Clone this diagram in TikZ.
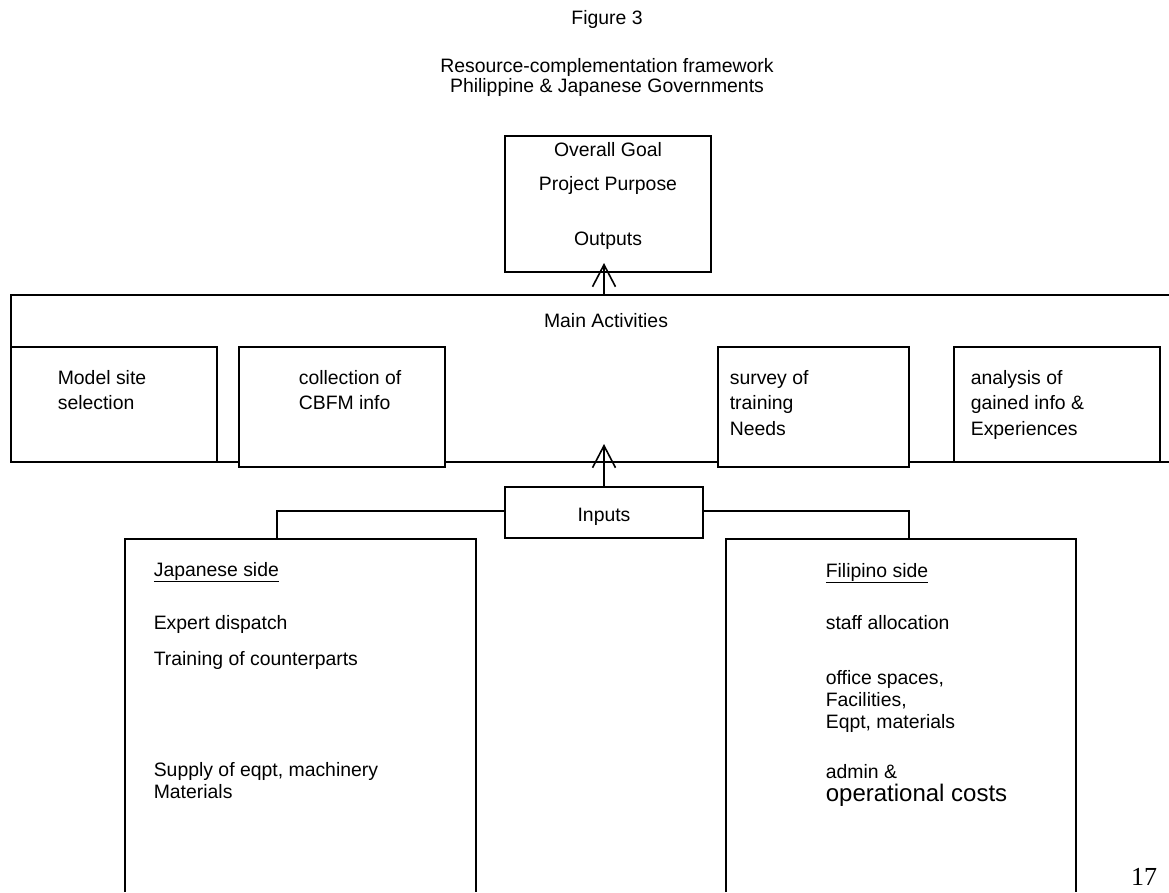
\documentclass[tikz,border=0pt]{standalone}
\usepackage{fontspec}
\setmainfont{Liberation Sans}
\newfontfamily\pagenumfont{Liberation Serif}
\usetikzlibrary{arrows.meta}
\begin{document}
\begin{tikzpicture}[x=1pt,y=-1pt,line width=1.6pt,
  acttxt/.style={inner sep=0pt,anchor=base west,align=left,font=\fontsize{19.4}{25.5}\selectfont},
  txt/.style={inner sep=0pt,anchor=base west,align=left,font=\fontsize{19.4}{22}\selectfont},
  ctxt/.style={inner sep=0pt,anchor=base,align=center,font=\fontsize{19.4}{20}\selectfont},
  box/.style={draw,fill=white,inner sep=0pt,outer sep=0pt},
  up/.style={-{Straight Barb[length=22pt,width=23pt,line width=1.6pt]}}]
\useasboundingbox (0,0) rectangle (1169,892);
% multi-line nodes below are placed by the baseline of their last line

% titles
\node[ctxt] (fig) at (607,24) {Figure 3};
\node[ctxt] (title) at (607,92) {Resource-complementation framework\\Philippine \& Japanese Governments};

% goal box
\node[box,minimum width=206pt,minimum height=136pt] (goal) at (608,204) {};
\node[ctxt] (goalt1) at (608,156) {Overall Goal};
\node[ctxt] (goalt2) at (608,190) {Project Purpose};
\node[ctxt] (goalt3) at (608,245) {Outputs};

% main activities band, open to the right
\coordinate (bandtl) at (11,295);
\coordinate (bandbl) at (11,462);
\draw (1169,295) -- (bandtl) -- (bandbl) -- (1169,462);
\node[ctxt] (mainact) at (606,327) {Main Activities};

% activity boxes
\node[box,minimum width=206pt,minimum height=115pt] (act1) at (114,404.5) {};
\node[box,minimum width=206pt,minimum height=120pt] (act2) at (342,407) {};
\node[box,minimum width=191pt,minimum height=120pt] (act3) at (813.5,407) {};
\node[box,minimum width=206pt,minimum height=115pt] (act4) at (1057,404.5) {};
\node[acttxt] (act1t) at (57,409.5) {Model site\\selection};
\node[acttxt] (act2t) at (298,409.5) {collection of\\CBFM info};
\node[acttxt] (act3t) at (729,435) {survey of\\training\\Needs};
\node[acttxt] (act4t) at (970,435) {analysis of\\gained info \&\\Experiences};

% inputs box
\node[box,minimum width=198pt,minimum height=51pt] (inputs) at (604,512.5) {};
\node[ctxt] (inputst) at (604,521) {Inputs};

% arrows
\coordinate (bandtop) at (604,295);
\coordinate (goaltip) at (604,263);
\coordinate (bandtip) at (604,444);
\draw[up] (bandtop) -- (goaltip);
\draw[up] (inputs.north) -- (bandtip);

% side boxes, open at the bottom
\draw (125,892) -- (125,539) -- (476,539) -- (476,892);
\draw (726,892) -- (726,539) -- (1076,539) -- (1076,892);
\coordinate (jptop) at (277,539);
\coordinate (phtop) at (909,539);
\draw (inputs.west |- 0,511) -| (jptop);
\draw (inputs.east |- 0,511) -| (phtop);

% Japanese side
\node[txt] (jp0) at (153,576) {\underline{Japanese side}};
\node[txt] (jp1) at (153,629) {Expert dispatch};
\node[txt] (jp2) at (153,665) {Training of counterparts};
\node[txt] (jp3) at (153,798) {Supply of eqpt, machinery\\Materials};

% Filipino side
\node[txt] (ph0) at (825,577) {\underline{Filipino side}};
\node[txt] (ph1) at (825,629) {staff allocation};
\node[txt] (ph2) at (825,728) {office spaces,\\Facilities,\\Eqpt, materials};
\node[txt] (ph3) at (825,778) {admin \&};
\node[txt,font=\fontsize{24}{24}\selectfont] (ph4) at (825,801) {operational costs};

% page number
\node[inner sep=0pt,anchor=base] (pnum) at (1144,885) {\pagenumfont\fontsize{26}{26}\selectfont 17};
\end{tikzpicture}
\end{document}
